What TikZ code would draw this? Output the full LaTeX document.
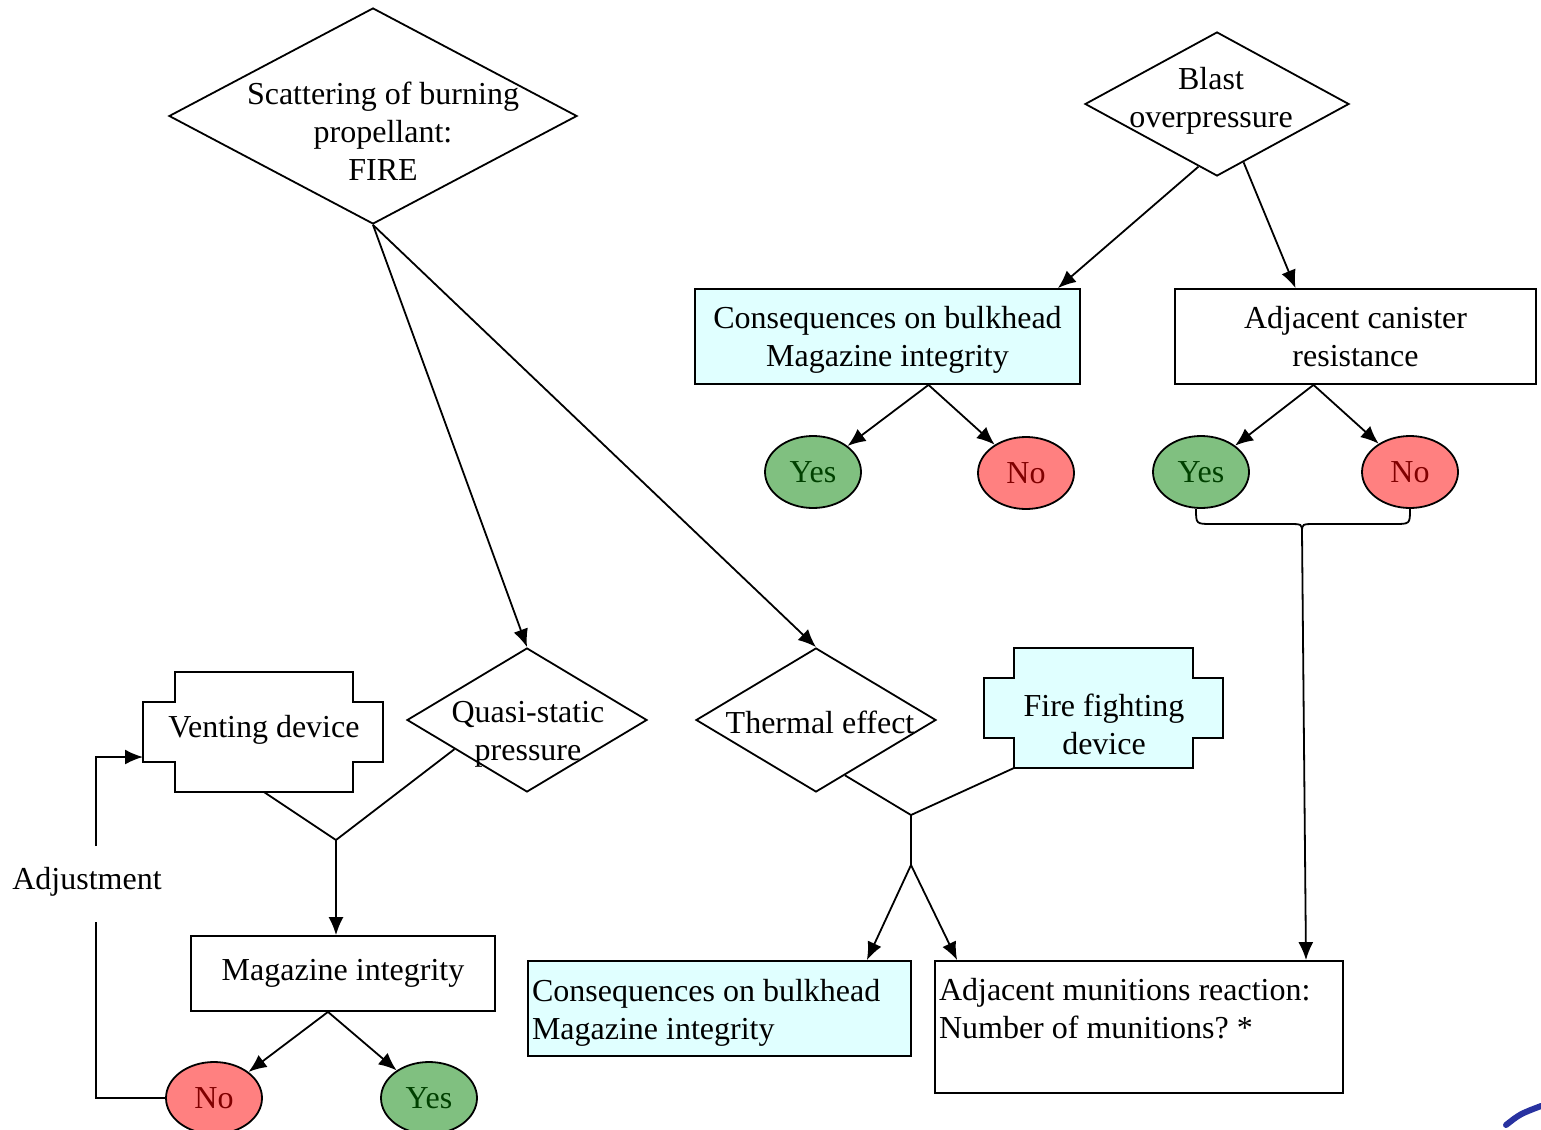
\documentclass[tikz,border=0pt]{standalone}
\usepackage{fontspec}
\setmainfont{Liberation Serif}
\usetikzlibrary{shapes.geometric,arrows.meta,calc,scopes}
\definecolor{cyanbox}{HTML}{E0FFFF}
\definecolor{yesfill}{HTML}{80C080}
\definecolor{yestext}{HTML}{004000}
\definecolor{nofill}{HTML}{FF8080}
\definecolor{notext}{HTML}{800000}
\frenchspacing

\begin{document}
\begin{tikzpicture}[x=0.5pt,y=-0.5pt,
    line width=0.9pt,
    >={Latex[length=9pt,width=7.5pt]},
    every node/.style={font=\fontsize{16}{19}\selectfont},
    dia/.style={diamond,draw,inner sep=0pt},
    box/.style={rectangle,draw,inner sep=2pt,align=center,minimum height=47.5pt},
    cbox/.style={box,fill=cyanbox},
    yes/.style={ellipse,draw,fill=yesfill,text=yestext,minimum width=48pt,minimum height=36pt,inner sep=0pt},
    no/.style={yes,fill=nofill,text=notext},
    logo/.style={draw={rgb,255:red,40;green,50;blue,160},line width=3pt,line cap=round},]
\useasboundingbox (0,0) rectangle (1541,1129);
\node[dia,minimum width=204pt,minimum height=108pt] (scat) at (373,116) {};
\node[align=center] (scattxt) at (383,131) {Scattering of burning\\propellant:\\FIRE};
\node[dia,minimum width=132pt,minimum height=72pt] (blast) at (1217,104) {};
\node[align=center] (blasttxt) at (1211,101) {Blast\\overpressure};
\node[dia,minimum width=120pt,minimum height=72pt] (quasi) at (527,720) {};
\node[align=center] (quasitxt) at (528,734) {Quasi-static\\pressure};
\node[dia,minimum width=120pt,minimum height=72pt] (therm) at (816,720) {};
\node (thermtxt) at (820,722) {Thermal effect};
\draw (175,672) -- (353,672) -- (353,702) -- (383,702) -- (383,762) -- (353,762) -- (353,792)
    -- (175,792) -- (175,762) -- (143,762) -- (143,702) -- (175,702) -- cycle;
\node (vent) at (264,730) {Venting device};
\fill[cyanbox] (1014,648) rectangle (1193,768) (984,678) rectangle (1223,738);
\draw (1014,648) -- (1193,648) -- (1193,678) -- (1223,678) -- (1223,738) -- (1193,738) -- (1193,768)
    -- (1014,768) -- (1014,738) -- (984,738) -- (984,678) -- (1014,678) -- cycle;
\node[align=center] (fire) at (1104,724) {Fire fighting\\device};
\node[cbox,minimum width=192.5pt,text depth=0pt] (cons1) at (887.5,336.5) {Consequences on bulkhead\\Magazine integrity};
\node[box,minimum width=180.5pt,text depth=0pt] (adj) at (1355.5,336.5) {Adjacent canister\\resistance};
\node[box,minimum width=152pt,minimum height=37.5pt] (mag) at (343,973.5) {Magazine integrity};
\node[cbox,minimum width=191.5pt,text width=187.5pt,align=flush left,text depth=18pt] (cons2) at (719.5,1008.5) {Consequences on bulkhead\\Magazine integrity};
\node[box,minimum width=204pt,minimum height=66pt,text width=200pt,align=flush left] (munit) at (1139,1027) {Adjacent munitions reaction:\\Number of munitions? *\\~};
\node[yes] (y1) at (813,472) {Yes};
\node[no] (n1) at (1026,473) {No};
\node[yes] (y2) at (1201,472) {Yes};
\node[no] (n2) at (1410,472) {No};
\node[no] (n3) at (214,1098) {No};
\node[yes] (y3) at (429,1098) {Yes};
\node (adjust) at (87,882) {Adjustment};
\coordinate (c1) at ([xshift=20.5pt]cons1.south);
\coordinate (c2) at ([xshift=-21pt]adj.south);
\coordinate (c3) at ([xshift=-7.5pt]mag.south);
\coordinate (j1) at (336,840);
\coordinate (j2) at (911,815);
\coordinate (j3) at (911,865);
\coordinate (br) at (1302,532);
\coordinate (a1) at (96,922);
\coordinate (a2) at (96,846);
\coordinate (vin) at (143,757);
{[->]
    \draw (scat.south) -- (quasi.north);
    \draw (scat.south) -- (therm.north);
    \draw ($(blast.south)!0.14!(blast.west)$) -- ([xshift=-11.5pt]cons1.north east);
    \draw ($(blast.south)!0.2!(blast.east)$) -- ([xshift=-30pt]adj.north);
    \draw (c1) -- (y1);
    \draw (c1) -- (n1);
    \draw (c2) -- (y2);
    \draw (c2) -- (n2);
    \draw (c3) -- (n3);
    \draw (c3) -- (y3);
    \draw (j1) -- (j1 |- mag.north);
    \draw (j3) -- ([xshift=-22.5pt]cons2.north east);
    \draw (j3) -- ([xshift=11.5pt]munit.north west);
    \draw (br) -- ([xshift=83.5pt]munit.north);
    \draw (a2) |- (vin);
}
\draw (264,792) -- (j1) -- ($(quasi.south)!0.6!(quasi.west)$);
\draw ($(therm.south)!0.24!(therm.east)$) -- (j2) -- (1014,768);
\draw (j2) -- (j3);
\draw (n3.west) -| (a1);
\draw (1196,509) .. controls (1196,524) .. (1212,524) -- (1288,524) .. controls (1302,524) .. (br);
\draw (1410,509) .. controls (1410,524) .. (1394,524) -- (1316,524) .. controls (1302,524) .. (br);
\draw[logo] (1506,1125) .. controls (1520,1114) .. (1541,1106);
\end{tikzpicture}
\end{document}
